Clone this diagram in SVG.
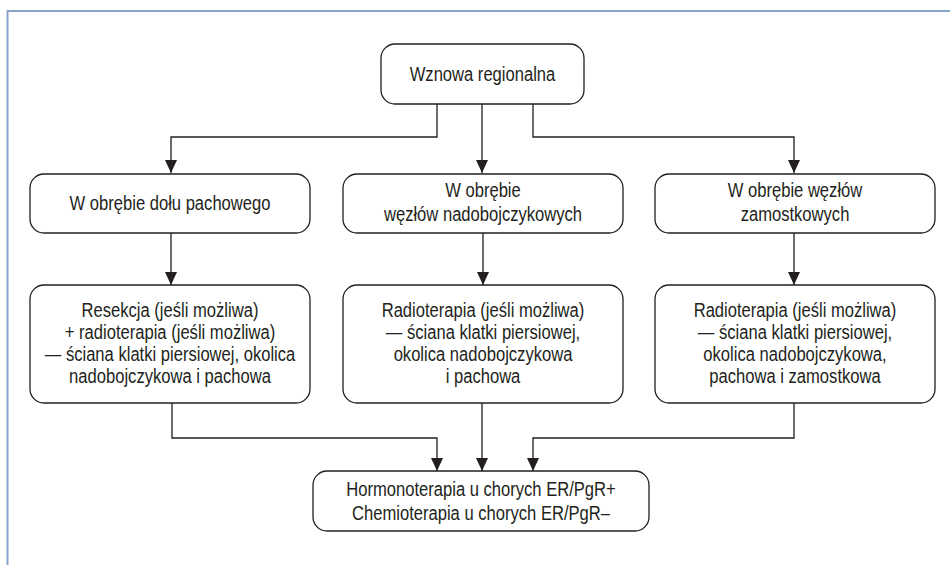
<svg xmlns="http://www.w3.org/2000/svg" width="950" height="565" viewBox="0 0 950 565">
<style>
.box{fill:#fff;stroke:#231f20;stroke-width:1.3}
.t{font-family:"Liberation Sans",Arial,sans-serif;font-size:21px;fill:#231f20;text-anchor:middle}
.c{fill:none;stroke:#231f20;stroke-width:1.3}
</style>
<defs>
<marker id="a" markerWidth="13" markerHeight="12" refX="13" refY="6" orient="auto" markerUnits="userSpaceOnUse" viewBox="0 0 13 12">
<path d="M0,0 L13,6 L0,12 Z" fill="#231f20"/>
</marker>
</defs>
<rect width="950" height="565" fill="#fff"/>
<path d="M7.5,565 V11 H950" fill="none" stroke="#86a4cb" stroke-width="2"/>

<g id="connectors">
<path class="c" d="M437,104 V137 H171 V173" marker-end="url(#a)"/>
<path class="c" d="M482,104 V173" marker-end="url(#a)"/>
<path class="c" d="M533,104 V137 H794 V173" marker-end="url(#a)"/>
<path class="c" d="M171,233 V285" marker-end="url(#a)"/>
<path class="c" d="M483,233 V285" marker-end="url(#a)"/>
<path class="c" d="M794,233 V285" marker-end="url(#a)"/>
<path class="c" d="M172,403 V438 H437 V471" marker-end="url(#a)"/>
<path class="c" d="M482,403 V471" marker-end="url(#a)"/>
<path class="c" d="M794,403 V438 H533 V471" marker-end="url(#a)"/>
</g>

<g id="n-wznowa">
<rect class="box" x="381" y="44" width="203" height="60" rx="14"/>
<text class="t" transform="translate(482.5 0) scale(0.79 1)" y="81">Wznowa regionalna</text>
</g>
<g id="n-pachowy">
<rect class="box" x="30" y="174" width="280" height="59" rx="14"/>
<text class="t" transform="translate(170 0) scale(0.79 1)" y="210">W obrębie dołu pachowego</text>
</g>
<g id="n-nadobojczykowe">
<rect class="box" x="343" y="174" width="280" height="59" rx="14"/>
<g transform="translate(483 0) scale(0.79 1)">
<text class="t" y="197">W obrębie</text>
<text class="t" y="221">węzłów nadobojczykowych</text>
</g>
</g>
<g id="n-zamostkowe">
<rect class="box" x="655" y="174" width="280" height="59" rx="14"/>
<g transform="translate(795 0) scale(0.79 1)">
<text class="t" y="197">W obrębie węzłów</text>
<text class="t" y="221">zamostkowych</text>
</g>
</g>
<g id="n-resekcja">
<rect class="box" x="30" y="285" width="280" height="118" rx="14"/>
<g transform="translate(170 0) scale(0.79 1)">
<text class="t" y="317">Resekcja (jeśli możliwa)</text>
<text class="t" y="339">+ radioterapia (jeśli możliwa)</text>
<text class="t" y="361">— ściana klatki piersiowej, okolica</text>
<text class="t" y="383">nadobojczykowa i pachowa</text>
</g>
</g>
<g id="n-radio1">
<rect class="box" x="343" y="285" width="280" height="118" rx="14"/>
<g transform="translate(483 0) scale(0.79 1)">
<text class="t" y="317">Radioterapia (jeśli możliwa)</text>
<text class="t" y="339">— ściana klatki piersiowej,</text>
<text class="t" y="361">okolica nadobojczykowa</text>
<text class="t" y="383">i pachowa</text>
</g>
</g>
<g id="n-radio2">
<rect class="box" x="655" y="285" width="280" height="118" rx="14"/>
<g transform="translate(795 0) scale(0.79 1)">
<text class="t" y="317">Radioterapia (jeśli możliwa)</text>
<text class="t" y="339">— ściana klatki piersiowej,</text>
<text class="t" y="361">okolica nadobojczykowa,</text>
<text class="t" y="383">pachowa i zamostkowa</text>
</g>
</g>
<g id="n-terapia">
<rect class="box" x="313" y="471" width="336" height="60" rx="14"/>
<g transform="translate(481 0) scale(0.79 1)">
<text class="t" y="496">Hormonoterapia u chorych ER/PgR+</text>
<text class="t" y="520">Chemioterapia u chorych ER/PgR–</text>
</g>
</g>
</svg>
